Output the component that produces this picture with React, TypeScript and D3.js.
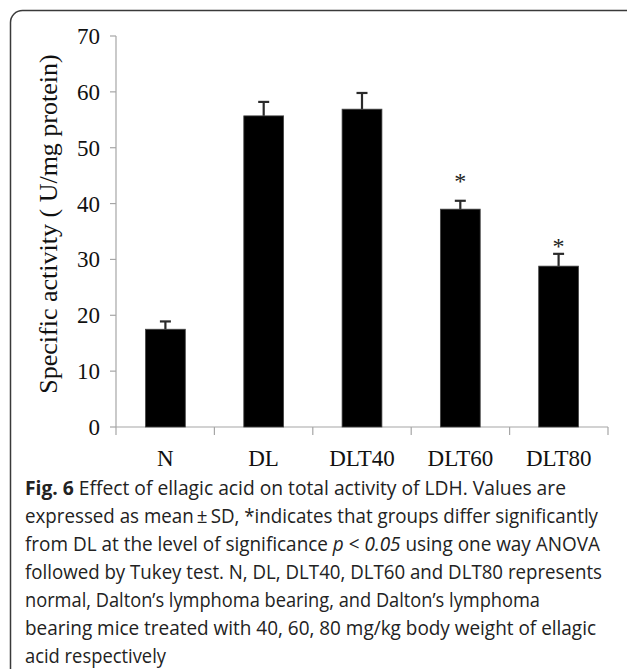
import React from "react";
import * as d3 from "d3";

const categories = ["N", "DL", "DLT40", "DLT60", "DLT80"];
const means = [17.5, 55.7, 56.9, 39.0, 28.8];
const sds = [1.4, 2.5, 2.9, 1.5, 2.2];
const starAt = [null, null, null, 44.8, 33.2];
const yTicks = [0, 10, 20, 30, 40, 50, 60, 70];
const yLabel = "Specific activity ( U/mg protein)";
const captionLines = [
  "Effect of ellagic acid on total activity of LDH. Values are",
  "expressed as mean\u2009\u00b1\u2009SD, *indicates that groups differ significantly",
  "from DL at the level of significance ",
  "followed by Tukey test. N, DL, DLT40, DLT60 and DLT80 represents",
  "normal, Dalton\u2019s lymphoma bearing, and Dalton\u2019s lymphoma",
  "bearing mice treated with 40, 60, 80 mg/kg body weight of ellagic",
  "acid respectively",
];

const W = 627;
const H = 669;
const serif = "'Liberation Serif', 'Times New Roman', serif";
const sans = "'Open Sans', 'Noto Sans', sans-serif";

export default function App() {
  const x0 = 116;
  const x1 = 608;
  const x = d3.scaleBand().domain(categories).range([x0, x1]).paddingInner(0.595).paddingOuter(0.3);
  const xb = d3.scaleBand().domain(categories).range([x0, x1]).padding(0);
  const y = d3.scaleLinear().domain([0, 70]).range([427, 36]);
  const axisColor = "#a6a6a6";
  const capStart = 25;
  const lineY = (i: number) => 495 + i * 28;
  const lineLens = [541, 573, 575, 577, 515, 571, 141];

  return (
    <svg width={W} height={H} style={{ position: "absolute", left: 0, top: 0, background: "#fff" }}>
      <rect x={10.5} y={10.5} width={700} height={700} rx={12} fill="none" stroke="#3a3a3a" strokeWidth={1.5} />
      {/* y axis */}
      <line x1={x0} x2={x0} y1={y(70)} y2={y(0)} stroke={axisColor} strokeWidth={1.2} />
      {yTicks.map((t) => (
        <g key={t}>
          <line x1={x0 - 6} x2={x0} y1={y(t)} y2={y(t)} stroke={axisColor} strokeWidth={1.2} />
          <text x={100} y={y(t)} dy="0.35em" textAnchor="end" fontFamily={serif} fontSize={23} fill="#111">
            {t}
          </text>
        </g>
      ))}
      {/* x axis */}
      <line x1={x0} x2={x1} y1={y(0)} y2={y(0)} stroke={axisColor} strokeWidth={1.2} />
      {[...categories.map((c) => xb(c) as number), x1].map((p, i) => (
        <line key={i} x1={p} x2={p} y1={y(0)} y2={y(0) + 8} stroke={axisColor} strokeWidth={1.2} />
      ))}
      {categories.map((c) => (
        <text key={c} x={(xb(c) as number) + xb.bandwidth() / 2} y={466} textAnchor="middle" fontFamily={serif} fontSize={23} fill="#111">
          {c}
        </text>
      ))}
      {/* error bars */}
      {categories.map((c, i) => {
        const cx = (x(c) as number) + x.bandwidth() / 2;
        return (
          <g key={c} stroke="#2a2a2a" strokeWidth={2.2}>
            <line x1={cx} x2={cx} y1={y(means[i])} y2={y(means[i] + sds[i])} />
            <line x1={cx - 5.5} x2={cx + 5.5} y1={y(means[i] + sds[i])} y2={y(means[i] + sds[i])} />
          </g>
        );
      })}
      {/* bars */}
      {categories.map((c, i) => (
        <rect key={c} x={x(c) as number} y={y(means[i])} width={x.bandwidth()} height={y(0) - y(means[i])} fill="#000" stroke="#444" strokeWidth={0.8} />
      ))}
      {categories.map((c, i) =>
        starAt[i] !== null ? (
          <text key={c} x={(x(c) as number) + x.bandwidth() / 2} y={y(starAt[i] as number) + 12} textAnchor="middle" fontFamily={serif} fontSize={24} fill="#222">
            *
          </text>
        ) : null
      )}
      {/* y label */}
      <text transform={`translate(57,224) rotate(-90)`} textAnchor="middle" fontFamily={serif} fontSize={26} fill="#111">
        {yLabel}
      </text>
      {/* caption */}
      <g fontFamily={sans} fontSize={19.5} fill="#222">
        <text x={capStart} y={lineY(0)} textLength={lineLens[0]} lengthAdjust="spacingAndGlyphs">
          <tspan fontWeight="bold">Fig. 6</tspan> {captionLines[0]}
        </text>
        <text x={capStart} y={lineY(1)} textLength={lineLens[1]} lengthAdjust="spacingAndGlyphs">
          {captionLines[1]}
        </text>
        <text x={capStart} y={lineY(2)} textLength={lineLens[2]} lengthAdjust="spacingAndGlyphs">
          {captionLines[2]}
          <tspan fontStyle="italic">p</tspan> &lt; <tspan fontStyle="italic">0.05</tspan> using one way ANOVA
        </text>
        {captionLines.slice(3).map((l, k) => (
          <text key={k} x={capStart} y={lineY(k + 3)} textLength={lineLens[k + 3]} lengthAdjust="spacingAndGlyphs">
            {l}
          </text>
        ))}
      </g>
    </svg>
  );
}
